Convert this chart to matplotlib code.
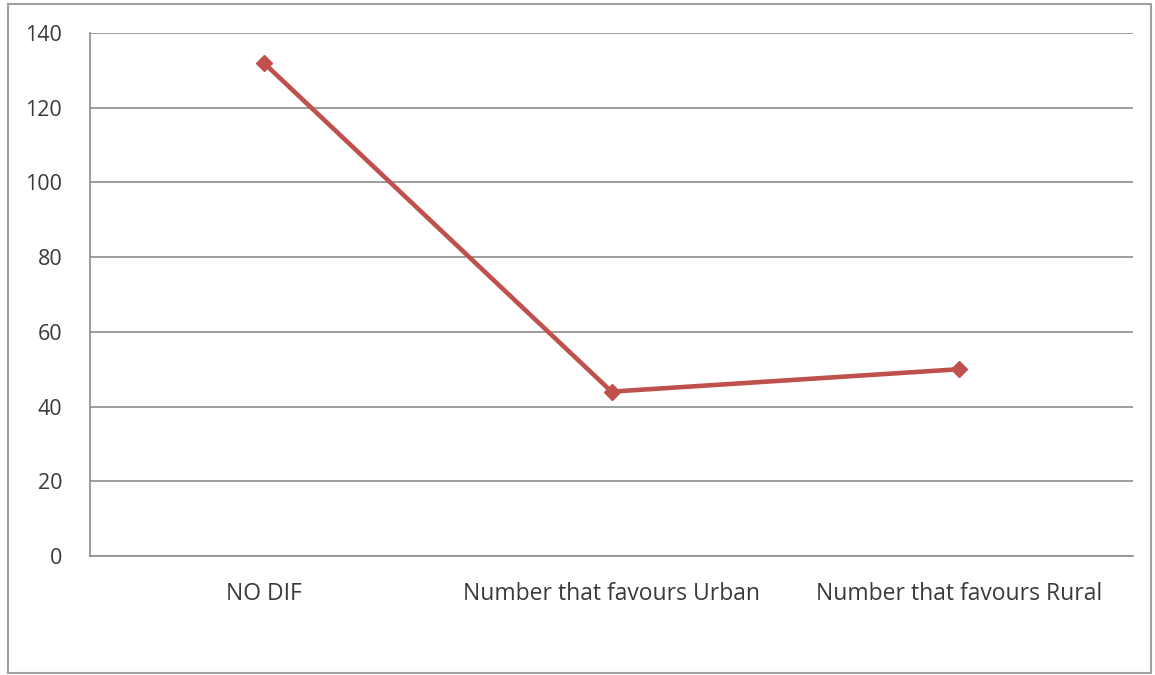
import matplotlib.pyplot as plt
from matplotlib.patches import Rectangle

# datos
categorias = ["NO DIF", "Number that favours Urban", "Number that favours Rural"]
valores = [132, 44, 50]
ticks_y = [0, 20, 40, 60, 80, 100, 120, 140]

ROJO = "#C0504D"
GRIS = "#8C8C8C"

plt.rcParams["font.family"] = ["Open Sans", "DejaVu Sans"]

fig = plt.figure(figsize=(11.55, 6.75), dpi=100)
ax = fig.add_axes([90 / 1155, 1 - 556 / 675, (1133 - 90) / 1155, (556 - 33) / 675])

x = list(range(len(categorias)))
ax.plot(x, valores, color=ROJO, linewidth=3.3, marker="D", markersize=8,
        markerfacecolor=ROJO, markeredgecolor=ROJO, zorder=3)

ax.set_xlim(-0.5, len(categorias) - 0.5)
ax.set_ylim(0, 140)
ax.set_yticks(ticks_y)
ax.set_xticks(x)
ax.set_xticklabels(categorias)

ax.grid(axis="y", color=GRIS, linewidth=1.2)
ax.set_axisbelow(True)
for lado in ["top", "right"]:
    ax.spines[lado].set_visible(False)
for lado in ["left", "bottom"]:
    ax.spines[lado].set_color(GRIS)
    ax.spines[lado].set_linewidth(1.2)

ax.tick_params(axis="y", length=0, labelsize=15.5, labelcolor="#3A3A3A", pad=20)
ax.tick_params(axis="x", length=0, labelsize=16.5, labelcolor="#3A3A3A", pad=19)

# marco exterior del gráfico
fig.patches.append(Rectangle((8 / 1155, 2 / 675), 1 - 12 / 1155, 1 - 6 / 675,
                             transform=fig.transFigure, fill=False,
                             edgecolor="#A0A0A0", linewidth=1.5))

fig.savefig("out.png", dpi=100)
